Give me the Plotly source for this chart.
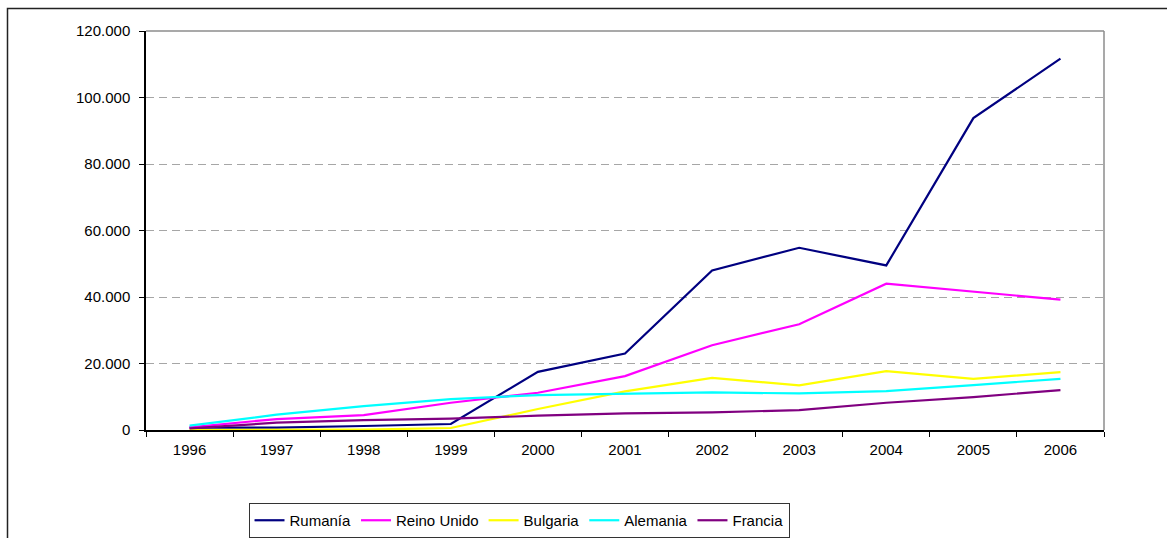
import plotly.graph_objects as go

# Años y llegadas por país de origen
years = ["1996", "1997", "1998", "1999", "2000", "2001", "2002", "2003", "2004", "2005", "2006"]

rumania = [700, 700, 1200, 1800, 17500, 23000, 48000, 54800, 49500, 93800, 111700]
reino_unido = [800, 3300, 4500, 8200, 11200, 16200, 25500, 31800, 44000, 41700, 39200]
bulgaria = [0, 0, 100, 600, 6300, 11600, 15700, 13400, 17700, 15400, 17400]
alemania = [1300, 4600, 7200, 9300, 10500, 10900, 11300, 11000, 11700, 13500, 15400]
francia = [500, 2200, 3000, 3400, 4300, 5000, 5300, 6000, 8200, 9900, 12000]

series = [
    ("Rumanía", rumania, "#000080"),
    ("Reino Unido", reino_unido, "#FF00FF"),
    ("Bulgaria", bulgaria, "#FFFF00"),
    ("Alemania", alemania, "#00FFFF"),
    ("Francia", francia, "#800080"),
]

W, H = 1167, 538
L, R, T, B = 146, 1104, 31, 430  # plot area in pixels


def px_x(p):
    return (p - L) / (R - L)


def px_y(p):
    return (B - p) / (B - T)


fig = go.Figure()
for name, vals, color in series:
    fig.add_trace(go.Scatter(
        x=years, y=vals, name=name, mode="lines",
        line=dict(color=color, width=2.2),
    ))

font_family = "Liberation Sans, Arial, sans-serif"

fig.update_layout(
    width=W, height=H,
    margin=dict(l=L, r=W - R, t=T, b=H - B, autoexpand=False),
    paper_bgcolor="white",
    plot_bgcolor="white",
    separators=",.",
    font=dict(family=font_family, size=14, color="black"),
    showlegend=True,
    legend=dict(
        orientation="h",
        x=px_x(519), xanchor="center",
        y=px_y(503), yanchor="top",
        bordercolor="#333333", borderwidth=1,
        bgcolor="white",
        font=dict(size=15, family=font_family),
        itemwidth=30,
        tracegroupgap=0,
    ),
    xaxis=dict(
        type="category",
        range=[-0.5, 10.5],
        tickson="boundaries",
        ticks="outside", ticklen=5, tickcolor="black", tickwidth=1,
        ticklabelstandoff=5,
        showline=True, linecolor="black", linewidth=1.5,
        showgrid=False, zeroline=False,
        tickfont=dict(size=15),
        fixedrange=True,
    ),
    yaxis=dict(
        range=[0, 120000],
        tickvals=[0, 20000, 40000, 60000, 80000, 100000, 120000],
        tickformat=",d",
        ticks="outside", ticklen=5, tickcolor="black", tickwidth=1,
        ticklabelstandoff=6,
        showline=True, linecolor="black", linewidth=1.5,
        showgrid=True, gridcolor="#A6A6A6", gridwidth=1, griddash="8px,5px",
        zeroline=False,
        tickfont=dict(size=15),
        fixedrange=True,
    ),
    shapes=[
        # plot area border on top and right
        dict(type="line", xref="paper", yref="paper", x0=0, x1=1, y0=1, y1=1,
             line=dict(color="#8C8C8C", width=1.5), layer="above"),
        dict(type="line", xref="paper", yref="paper", x0=1, x1=1, y0=0, y1=1,
             line=dict(color="#8C8C8C", width=1.5), layer="above"),
        # outer chart frame
        dict(type="rect", xref="paper", yref="paper",
             x0=px_x(7.5), x1=px_x(1175), y0=px_y(548), y1=px_y(8.5),
             line=dict(color="#222222", width=1.5), layer="above"),
    ],
)

fig.write_html("out.html")
